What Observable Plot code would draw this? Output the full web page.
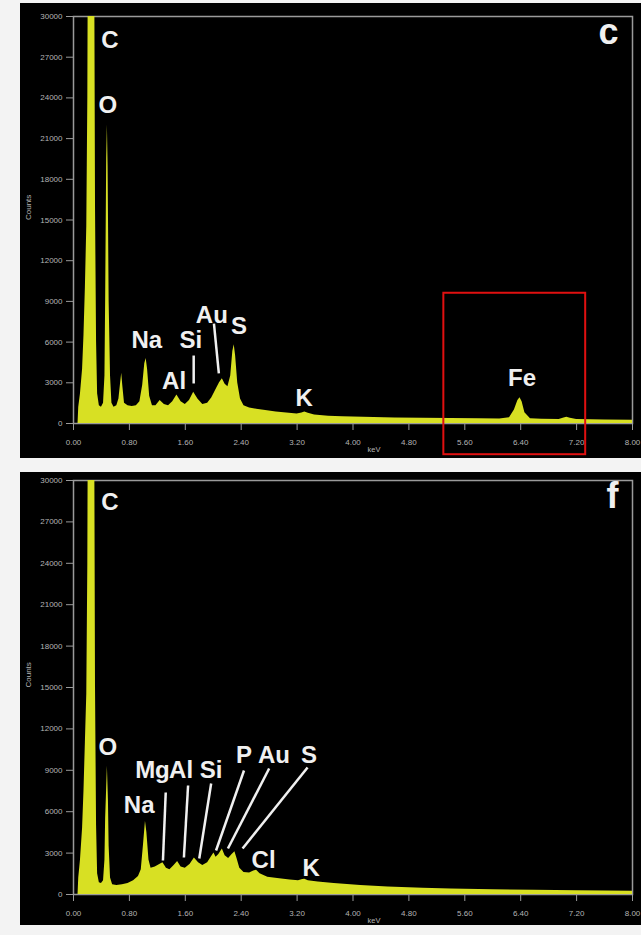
<!DOCTYPE html>
<html>
<head>
<meta charset="utf-8">
<script src="https://cdn.jsdelivr.net/npm/d3@7"></script>
<script src="https://cdn.jsdelivr.net/npm/@observablehq/plot@0.6"></script>
<style>
  html, body { margin: 0; padding: 0; background: #f3f3f3; }
  body { width: 641px; height: 935px; position: relative; overflow: hidden; }
  .panel { position: absolute; left: 20px; }
  #panelC { top: 3px; }
  #panelF { top: 472px; }
</style>
</head>
<body>
<div id="panelC" class="panel"></div>
<div id="panelF" class="panel"></div>
<script>
// ---------- axis ticks ----------
const xTicks = [0, 0.8, 1.6, 2.4, 3.2, 4.0, 4.8, 5.6, 6.4, 7.2, 8.0];
const xTickLabels = ["0.00", "0.80", "1.60", "2.40", "3.20", "4.00", "4.80", "5.60", "6.40", "7.20", "8.00"];
const yTicks = [0, 3000, 6000, 9000, 12000, 15000, 18000, 21000, 24000, 27000, 30000];
const yTickLabels = ["0", "3000", "6000", "9000", "12000", "15000", "18000", "21000", "24000", "27000", "30000"];
const xTitle = "keV";
const yTitle = "Counts";

// ---------- spectrum c ----------
const energyC = [0.00, 0.065, 0.075, 0.10, 0.13, 0.15, 0.17, 0.19, 0.205, 0.215, 0.30, 0.315, 0.33, 0.345, 0.37, 0.40, 0.43, 0.45, 0.46, 0.475, 0.485, 0.495, 0.51, 0.53, 0.55, 0.58, 0.62, 0.65, 0.675, 0.69, 0.705, 0.73, 0.78, 0.84, 0.90, 0.95, 0.99, 1.02, 1.04, 1.06, 1.09, 1.13, 1.18, 1.24, 1.30, 1.36, 1.42, 1.48, 1.54, 1.60, 1.66, 1.72, 1.78, 1.85, 1.92, 1.98, 2.04, 2.09, 2.13, 2.17, 2.21, 2.25, 2.28, 2.30, 2.32, 2.35, 2.39, 2.44, 2.52, 2.62, 2.75, 2.90, 3.05, 3.20, 3.27, 3.31, 3.36, 3.45, 3.65, 3.85, 4.00, 4.30, 4.60, 5.00, 5.40, 5.80, 6.10, 6.24, 6.31, 6.36, 6.39, 6.42, 6.46, 6.54, 6.70, 6.95, 7.02, 7.06, 7.11, 7.20, 7.60, 8.00];
const countsC = [0, 0, 1200, 2200, 4000, 6500, 10000, 14500, 24000, 40000, 40000, 16000, 6000, 2200, 1300, 1200, 1500, 3500, 9000, 19500, 22000, 19000, 9000, 3500, 1500, 1200, 1300, 1800, 3000, 3700, 2800, 1500, 1300, 1250, 1300, 1600, 2800, 4400, 4800, 4000, 2000, 1300, 1300, 1700, 1400, 1300, 1600, 2100, 1600, 1400, 1700, 2300, 1800, 1400, 1500, 1900, 2500, 3000, 3300, 2900, 2700, 3500, 5300, 5800, 5000, 3000, 1800, 1300, 1150, 1050, 950, 850, 780, 700, 780, 850, 760, 620, 540, 500, 470, 440, 410, 390, 370, 350, 340, 420, 1000, 1700, 1900, 1600, 800, 350, 320, 300, 400, 460, 380, 290, 260, 240];

const labelsC = ["C", "O", "Na", "Si", "Al", "Au", "S", "K", "Fe"];
const labelKeVC = [0.52, 0.49, 1.05, 1.68, 1.44, 1.98, 2.37, 3.30, 6.42];
const labelCountsC = [28230, 23440, 6120, 6120, 3100, 7960, 7150, 1840, 3320];
const leaderKeV1C = [1.72, 2.01];
const leaderCounts1C = [5010, 7370];
const leaderKeV2C = [1.72, 2.08];
const leaderCounts2C = [2950, 3690];
const feWindowKeV = [5.30, 7.33];
const feWindowCounts = [-2300, 9600];

// ---------- spectrum f ----------
const energyF = [0.00, 0.065, 0.075, 0.10, 0.13, 0.15, 0.17, 0.19, 0.205, 0.215, 0.30, 0.315, 0.33, 0.345, 0.37, 0.40, 0.43, 0.45, 0.46, 0.47, 0.485, 0.50, 0.51, 0.53, 0.56, 0.62, 0.70, 0.78, 0.86, 0.93, 0.97, 1.00, 1.03, 1.05, 1.08, 1.11, 1.17, 1.24, 1.28, 1.33, 1.38, 1.44, 1.49, 1.54, 1.60, 1.67, 1.73, 1.79, 1.85, 1.92, 1.97, 2.01, 2.04, 2.08, 2.13, 2.17, 2.22, 2.27, 2.31, 2.34, 2.38, 2.44, 2.52, 2.58, 2.62, 2.67, 2.78, 2.95, 3.10, 3.22, 3.28, 3.31, 3.36, 3.50, 3.73, 4.11, 4.50, 5.00, 5.40, 6.00, 6.60, 7.20, 7.60, 8.00];
const countsF = [0, 0, 1200, 2500, 4800, 7500, 11000, 14500, 24000, 40000, 40000, 15000, 5000, 1500, 850, 800, 1000, 2500, 5500, 7000, 9300, 6800, 3500, 1200, 700, 650, 700, 800, 1000, 1300, 1800, 3500, 5300, 4500, 2500, 1900, 2000, 2200, 2300, 1900, 1800, 2100, 2400, 2000, 1900, 2200, 2650, 2300, 2100, 2300, 2700, 3000, 2700, 2900, 3300, 2800, 2600, 2900, 3100, 2600, 1900, 1600, 1550, 1700, 1750, 1500, 1250, 1150, 1050, 1000, 1080, 1100, 1000, 900, 800, 650, 550, 450, 400, 340, 300, 270, 250, 230];

const labelsF = ["C", "O", "Na", "Mg", "Al", "Si", "P", "Au", "S", "Cl", "K"];
const labelKeVF = [0.52, 0.49, 0.94, 1.13, 1.54, 1.97, 2.44, 2.87, 3.37, 2.72, 3.40];
const labelCountsF = [28400, 10650, 6450, 8985, 8985, 8985, 10070, 10070, 10070, 2460, 1880];
const leaderKeV1F = [1.32, 1.64, 1.97, 2.44, 2.80, 3.35];
const leaderCounts1F = [7390, 7900, 8040, 8985, 9130, 9200];
const leaderKeV2F = [1.28, 1.58, 1.80, 2.04, 2.21, 2.42];
const leaderCounts2F = [2460, 2680, 2610, 3190, 3330, 3330];

const panelLetters = ["c", "f"];

// ---------- drawing ----------
const YELLOW = "#d8e023";
const AXIS = "#9a9a9a";
const TICKTEXT = "#b4b4b4";
const LABEL = "#f0f0f0";

function drawPanel({energy, counts, labels, labelKeV, labelCounts, l1x, l1y, l2x, l2y, letter, height, marginTop, marginBottom, extra = []}) {
  const spectrum = energy.map((e, i) => ({keV: e, counts: counts[i]}));
  const labelRows = labels.map((t, i) => ({t, keV: labelKeV[i], counts: labelCounts[i]}));
  const leaders = l1x.map((x, i) => ({x1: x, y1: l1y[i], x2: l2x[i], y2: l2y[i]}));
  const perPx = 30000 / (height - marginTop - marginBottom);
  return Plot.plot({
    width: 621,
    height,
    marginLeft: 53,
    marginRight: 9,
    marginTop,
    marginBottom,
    style: {background: "#000", color: TICKTEXT, fontFamily: "Liberation Sans, Arial, sans-serif"},
    x: {domain: [0, 8]},
    y: {domain: [0, 30000]},
    marks: [
      Plot.frame({stroke: AXIS, strokeWidth: 1.5}),
      Plot.areaY(spectrum, {x: "keV", y: "counts", fill: YELLOW, clip: true, curve: "linear"}),
      Plot.axisY(yTicks, {tickSize: 7, tickPadding: 4, fontSize: 8, stroke: AXIS, fill: TICKTEXT, label: null, tickFormat: (d, i) => yTickLabels[i]}),
      Plot.axisX(xTicks, {tickSize: 7, tickPadding: 9, fontSize: 8, stroke: AXIS, fill: TICKTEXT, label: null, tickFormat: (d, i) => xTickLabels[i]}),
      Plot.text([yTitle], {frameAnchor: "left", rotate: -90, dx: -45, fontSize: 8, fill: TICKTEXT}),
      Plot.text([xTitle], {x: [4.30], y: [-26 * perPx], fontSize: 7.5, fill: TICKTEXT}),
      Plot.link(leaders, {x1: "x1", y1: "y1", x2: "x2", y2: "y2", stroke: LABEL, strokeWidth: 2.5}),
      Plot.text(labelRows, {x: "keV", y: "counts", text: "t", fill: LABEL, fontSize: 24, fontWeight: "bold", lineAnchor: "middle"}),
      Plot.text([letter], {frameAnchor: "top-right", dx: -14, dy: 2, lineAnchor: "top", fill: LABEL, fontSize: 36, fontWeight: "bold"}),
      ...extra
    ]
  });
}

const feBox = [{x1: feWindowKeV[0], x2: feWindowKeV[1], y1: feWindowCounts[0], y2: feWindowCounts[1]}];

document.getElementById("panelC").append(drawPanel({
  energy: energyC, counts: countsC,
  labels: labelsC, labelKeV: labelKeVC, labelCounts: labelCountsC,
  l1x: leaderKeV1C, l1y: leaderCounts1C, l2x: leaderKeV2C, l2y: leaderCounts2C,
  letter: panelLetters[0], height: 455, marginTop: 13, marginBottom: 35,
  extra: [Plot.rect(feBox, {x1: "x1", x2: "x2", y1: "y1", y2: "y2", fill: "none", stroke: "#e01010", strokeWidth: 2})]
}));

document.getElementById("panelF").append(drawPanel({
  energy: energyF, counts: countsF,
  labels: labelsF, labelKeV: labelKeVF, labelCounts: labelCountsF,
  l1x: leaderKeV1F, l1y: leaderCounts1F, l2x: leaderKeV2F, l2y: leaderCounts2F,
  letter: panelLetters[1], height: 453, marginTop: 8, marginBottom: 31
}));
</script>
</body>
</html>
